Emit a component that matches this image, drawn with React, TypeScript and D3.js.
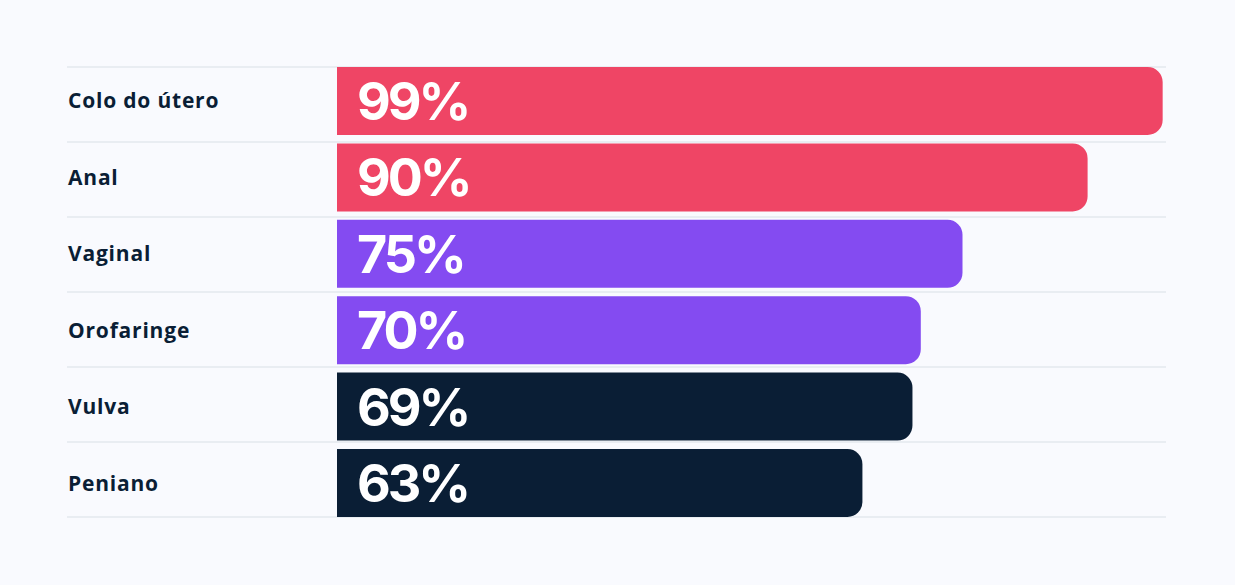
import React from "react";
import * as d3 from "d3";

const categories = ["Colo do útero", "Anal", "Vaginal", "Orofaringe", "Vulva", "Peniano"];
const values = [99, 90, 75, 70, 69, 63];
const groups = ["red", "red", "purple", "purple", "navy", "navy"];
const colorMap: Record<string, string> = { red: "#EF4565", purple: "#844BF1", navy: "#0A1E35" };

const W = 1235;
const H = 585;
const gridLeft = 67;
const gridRight = 1166;
const top = 67;
const bottom = 517;

export default function App() {
  const x = d3.scaleLinear().domain([0, 100]).range([337, 1171]);
  const y = d3.scaleBand<string>().domain(categories).range([top, bottom]).paddingInner(0.11).paddingOuter(0);
  const r = 15;
  const barPath = (x0: number, x1: number, y0: number, h: number) => {
    const p = d3.path();
    p.moveTo(x0, y0);
    p.lineTo(x1 - r, y0);
    p.arcTo(x1, y0, x1, y0 + r, r);
    p.lineTo(x1, y0 + h - r);
    p.arcTo(x1, y0 + h, x1 - r, y0 + h, r);
    p.lineTo(x0, y0 + h);
    p.closePath();
    return p.toString();
  };
  const rowH = (bottom - top) / categories.length;
  const lines = d3.range(categories.length + 1).map((i) => top + i * rowH);
  return (
    <svg width={W} height={H} style={{ position: "absolute", left: 0, top: 0, background: "#F9FAFE" }}>
      <rect x={0} y={0} width={W} height={H} fill="#F9FAFE" />
      {lines.map((ly, i) => (
        <line key={i} x1={gridLeft} x2={gridRight} y1={ly} y2={ly} stroke="#E3E8EE" strokeWidth={1.5} />
      ))}
      {categories.map((c, i) => {
        const y0 = y(c) as number;
        const h = y.bandwidth();
        return (
          <g key={c}>
            <path d={barPath(x(0), x(values[i]), y0, h)} fill={colorMap[groups[i]]} />
            <text
              x={68}
              y={y0 + h / 2 + 7.5}
              fontFamily="'Open Sans', Inter, sans-serif"
              fontWeight={700}
              fontSize={21}
              letterSpacing={0.8}
              fill="#0A1E35"
            >
              {c}
            </text>
            <text
              x={357}
              y={y0 + h / 2 + 19}
              fontFamily="Inter, 'Open Sans', sans-serif"
              fontWeight={700}
              fontSize={52}
              letterSpacing={-3}
              fill="#FFFFFF"
            >
              {values[i]}%
            </text>
          </g>
        );
      })}
    </svg>
  );
}
